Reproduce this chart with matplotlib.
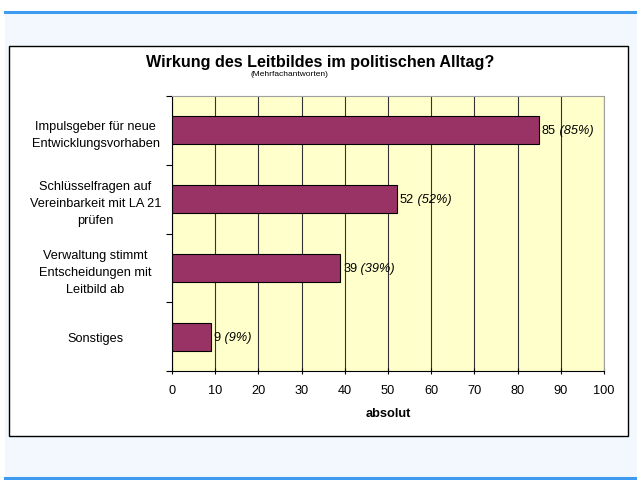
import matplotlib
matplotlib.use("Agg")
import matplotlib.pyplot as plt
from matplotlib.patches import Rectangle
from matplotlib.lines import Line2D

plt.rcParams['font.family'] = ['Liberation Sans', 'DejaVu Sans']

categories = ["Impulsgeber für neue\nEntwicklungsvorhaben",
              "Schlüsselfragen auf\nVereinbarkeit mit LA 21\nprüfen",
              "Verwaltung stimmt\nEntscheidungen mit\nLeitbild ab",
              "Sonstiges"]
values = [85, 52, 39, 9]
percents = [85, 52, 39, 9]
xticks = list(range(0, 101, 10))

fig = plt.figure(figsize=(6.37, 4.81), dpi=100)
fig.patch.set_facecolor("white")

# page background and blue rules
fig.patches.append(Rectangle((5/637, 0), 1, 1 - 12/481, transform=fig.transFigure,
                             facecolor="#f2f8fe", edgecolor="none", zorder=-3))
fig.lines.append(Line2D([5/637, 1], [1 - 12.5/481, 1 - 12.5/481], transform=fig.transFigure,
                        color="#3d9bf2", lw=2.2))
fig.lines.append(Line2D([5/637, 1], [1 - 479/481, 1 - 479/481], transform=fig.transFigure,
                        color="#3d9bf2", lw=2.2))
# chart box
fig.patches.append(Rectangle((9/637, 1 - 437/481), 619/637, 390/481, transform=fig.transFigure,
                             facecolor="white", edgecolor="black", lw=1, zorder=-2))

ax = fig.add_axes([172/637, 1 - 372/481, 432/637, 275/481])
ax.set_facecolor("#ffffcc")

fs = 9.2
y = list(range(len(categories)))
ax.barh(y, values, height=0.41, color="#993366", edgecolor="black", lw=0.8, zorder=3)
ax.set_ylim(len(categories) - 0.5, -0.5)
ax.set_xlim(0, 100)

for i, (v, p) in enumerate(zip(values, percents)):
    t = ax.annotate(f"{v}", xy=(v, i), xytext=(2, 0), textcoords="offset points",
                    ha="left", va="center", fontsize=fs, zorder=4)
    ax.annotate(f" ({p}%)", xy=(1, 0.5), xycoords=t, ha="left", va="center",
                fontsize=fs, style="italic", zorder=4)

ax.set_xticks(xticks)
ax.set_xticklabels([str(x) for x in xticks], fontsize=fs)
ax.set_yticks([i - 0.5 for i in range(len(categories) + 1)])
ax.set_yticklabels([])
ax.set_yticks(y, minor=True)
ax.set_yticklabels(categories, minor=True, fontsize=fs, ha="center",
                   multialignment="center", linespacing=1.55)
ax.tick_params(axis="y", which="minor", length=0, pad=55)
ax.tick_params(axis="y", which="major", length=4, direction="out")
ax.tick_params(axis="x", length=4, direction="inout", pad=7)
ax.grid(axis="x", color="#333333", lw=0.8, zorder=1)
ax.set_axisbelow(True)

for s in ["top", "right"]:
    ax.spines[s].set_color("#a0a0a0")
ax.spines["left"].set_color("black")
ax.spines["bottom"].set_color("black")

ax.set_xlabel("absolut", fontsize=fs, fontweight="bold", labelpad=8)

fig.text(320/637, 1 - 62/481, "Wirkung des Leitbildes im politischen Alltag?",
         ha="center", va="center", fontsize=11.6, fontweight="bold")
fig.text(289/637, 1 - 74/481, "(Mehrfachantworten)", ha="center", va="center", fontsize=6)

fig.savefig("out.png", dpi=100)
